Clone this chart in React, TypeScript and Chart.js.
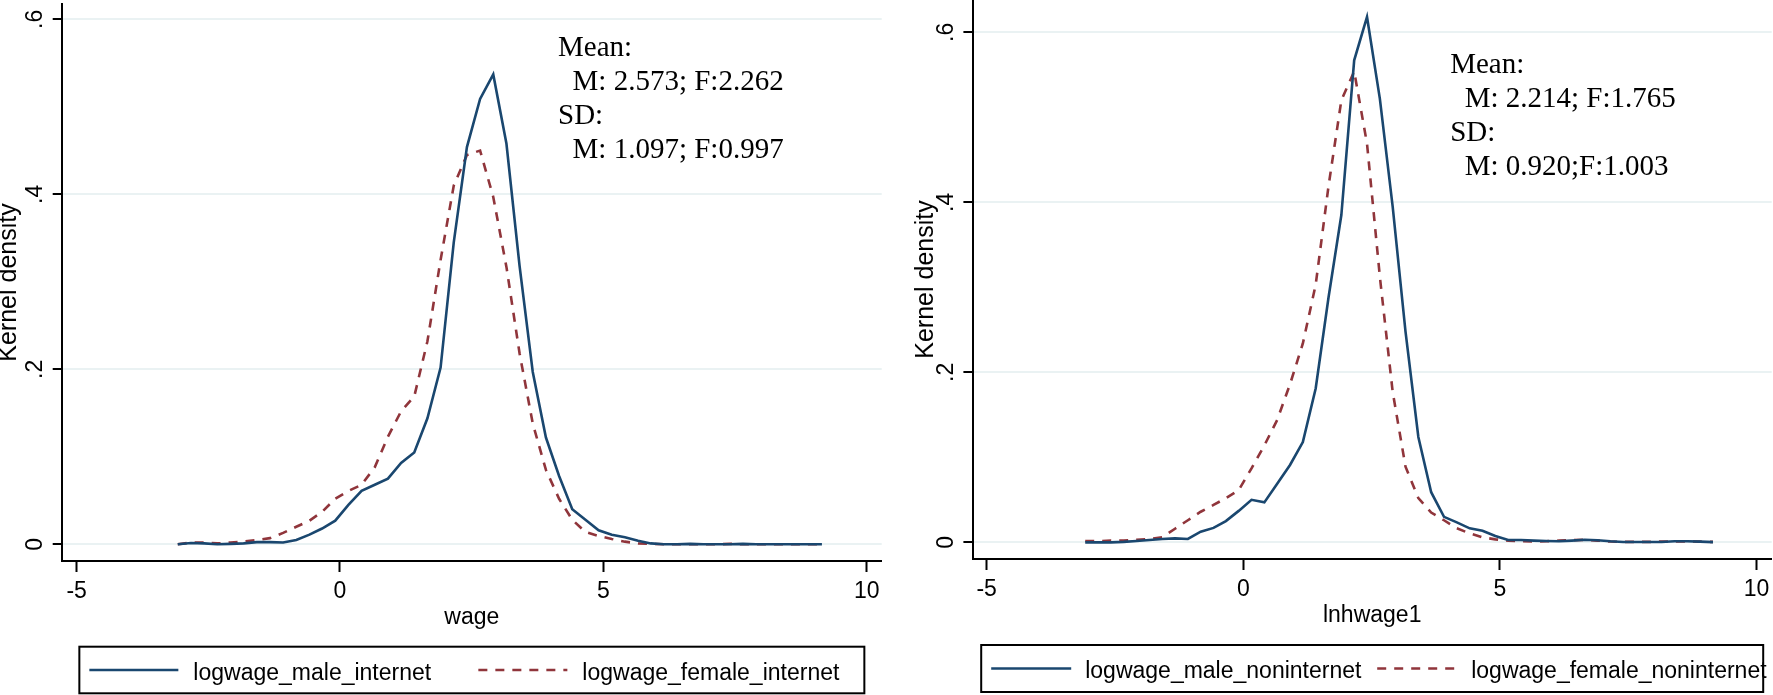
import React, { useEffect, useRef } from "react";
import { Chart, registerables } from "chart.js";

Chart.register(...registerables);

// ---------- data ----------
const gridX = [-3.08, -2.83, -2.58, -2.33, -2.08, -1.83, -1.58, -1.33, -1.08, -0.83,
  -0.58, -0.34, -0.09, 0.16, 0.41, 0.66, 0.91, 1.16, 1.41, 1.66,
  1.91, 2.16, 2.41, 2.66, 2.91, 3.16, 3.41, 3.66, 3.91, 4.16,
  4.41, 4.66, 4.91, 5.16, 5.41, 5.66, 5.90, 6.15, 6.40, 6.65,
  6.90, 7.15, 7.40, 7.65, 7.90, 8.15, 8.40, 8.65, 8.90, 9.15];

const maleInternet = [0.000, 0.0015, 0.001, 0.000, 0.0005, 0.001, 0.0025, 0.0025, 0.002, 0.005,
  0.011, 0.018, 0.027, 0.045, 0.061, 0.068, 0.075, 0.093, 0.105, 0.144,
  0.202, 0.345, 0.454, 0.509, 0.537, 0.458, 0.318, 0.197, 0.122, 0.078,
  0.040, 0.028, 0.016, 0.011, 0.008, 0.004, 0.001, 0.000, 0.000, 0.0005,
  0.000, 0.000, 0.000, 0.0005, 0.000, 0.000, 0.000, 0.000, 0.000, 0.000];

const femaleInternet = [0.000, 0.002, 0.002, 0.001, 0.002, 0.003, 0.005, 0.007, 0.013, 0.020,
  0.027, 0.037, 0.052, 0.061, 0.068, 0.088, 0.123, 0.152, 0.169, 0.232,
  0.325, 0.410, 0.445, 0.450, 0.397, 0.317, 0.218, 0.138, 0.085, 0.052,
  0.028, 0.014, 0.0095, 0.006, 0.003, 0.001, 0.0005, 0.000, 0.000, 0.000,
  0.000, 0.000, 0.0005, 0.000, 0.000, 0.000, 0.000, 0.000, 0.000, 0.000];

const maleNonInternet = [0.000, 0.000, 0.000, 0.0005, 0.0015, 0.0027, 0.004, 0.0047, 0.004, 0.0125,
  0.017, 0.025, 0.037, 0.050, 0.047, 0.069, 0.091, 0.118, 0.181, 0.288,
  0.385, 0.567, 0.618, 0.522, 0.395, 0.248, 0.124, 0.059, 0.030, 0.0235,
  0.0165, 0.0137, 0.0074, 0.0027, 0.0027, 0.002, 0.0016, 0.0012, 0.002, 0.0031,
  0.0024, 0.0012, 0.0004, 0.0004, 0.0004, 0.0004, 0.0012, 0.0012, 0.0008, 0.0002];

const femaleNonInternet = [0.0015, 0.0015, 0.002, 0.002, 0.003, 0.004, 0.006, 0.016, 0.026, 0.036,
  0.044, 0.052, 0.0615, 0.087, 0.114, 0.144, 0.186, 0.234, 0.303, 0.419,
  0.520, 0.554, 0.469, 0.3125, 0.177, 0.089, 0.052, 0.035, 0.026, 0.0165,
  0.0106, 0.0059, 0.0035, 0.002, 0.0015, 0.001, 0.0012, 0.002, 0.0025, 0.003,
  0.002, 0.001, 0.0005, 0.0005, 0.0005, 0.001, 0.001, 0.001, 0.0008, 0.0005];

const xTicks = [-5, 0, 5, 10];
const xTickLabels = ["-5", "0", "5", "10"];
const yTicks = [0, 0.2, 0.4, 0.6];
const yTickLabels = ["0", ".2", ".4", ".6"];

const leftSeriesNames = ["logwage_male_internet", "logwage_female_internet"];
const rightSeriesNames = ["logwage_male_noninternet", "logwage_female_noninternet"];
const leftNotes = ["Mean:", "  M: 2.573; F:2.262", "SD:", "  M: 1.097; F:0.997"];
const rightNotes = ["Mean:", "  M: 2.214; F:1.765", "SD:", "  M: 0.920;F:1.003"];

// ---------- style ----------
const NAVY = "#1A476F";
const MAROON = "#90353B";
const GRID = "#EAF2F3";
const SANS = '"Liberation Sans", Arial, Helvetica, sans-serif';
const SERIF = '"Liberation Serif", "Times New Roman", Times, serif';

function makeNotesPlugin(lines: string[], xv: number, yv: number, gap: number) {
  return {
    id: "notes",
    afterDatasetsDraw(chart: any) {
      const { ctx, scales } = chart;
      const px = scales.x.getPixelForValue(xv);
      const py = scales.y.getPixelForValue(yv);
      ctx.save();
      ctx.font = `29px ${SERIF}`;
      ctx.fillStyle = "#000";
      ctx.textAlign = "left";
      ctx.textBaseline = "alphabetic";
      lines.forEach((t, i) => ctx.fillText(t, px, py + i * gap));
      ctx.restore();
    },
  };
}

function makeLegendPlugin(cfg: any) {
  return {
    id: "stataLegend",
    afterDraw(chart: any) {
      const { ctx, chartArea } = chart;
      const cx = (chartArea.left + chartArea.right) / 2;
      const left = cx - cfg.width / 2;
      ctx.save();
      ctx.strokeStyle = "#000";
      ctx.lineWidth = 2;
      ctx.strokeRect(left, cfg.top, cfg.width, cfg.height);
      const midY = cfg.top + cfg.height / 2;
      chart.data.datasets.forEach((ds: any, i: number) => {
        const x0 = left + cfg.keyX[i];
        ctx.beginPath();
        ctx.setLineDash(ds.borderDash || []);
        ctx.strokeStyle = ds.borderColor;
        ctx.lineWidth = ds.borderWidth;
        ctx.moveTo(x0, midY);
        ctx.lineTo(x0 + cfg.keyLen, midY);
        ctx.stroke();
        ctx.setLineDash([]);
        ctx.fillStyle = "#000";
        ctx.font = `23px ${SANS}`;
        ctx.textAlign = "left";
        ctx.textBaseline = "alphabetic";
        ctx.fillText(ds.label, x0 + cfg.keyLen + cfg.gap, cfg.baseline);
      });
      ctx.restore();
    },
  };
}

function buildChart(canvas: HTMLCanvasElement, p: any) {
  const toPts = (arr: number[]) => gridX.map((x, i) => ({ x, y: arr[i] }));
  return new Chart(canvas, {
    type: "line",
    data: {
      datasets: [
        {
          label: p.names[0],
          data: toPts(p.male),
          borderColor: NAVY,
          borderWidth: 2.6,
          pointRadius: 0,
          tension: 0,
          fill: false,
        },
        {
          label: p.names[1],
          data: toPts(p.female),
          borderColor: MAROON,
          borderWidth: 2.6,
          borderDash: [9, 8],
          pointRadius: 0,
          tension: 0,
          fill: false,
        },
      ],
    },
    options: {
      responsive: false,
      animation: false,
      devicePixelRatio: 1,
      layout: {
        autoPadding: false,
        padding: { left: 0, top: p.padTop, right: p.padRight, bottom: p.padBottom },
      },
      plugins: {
        legend: { display: false },
        tooltip: { enabled: false },
      },
      scales: {
        x: {
          type: "linear",
          min: p.xMin,
          max: p.xMax,
          afterBuildTicks: (s: any) => {
            s.ticks = xTicks.map((v) => ({ value: v }));
          },
          afterFit: (s: any) => {
            s.height = 70;
            s.paddingLeft = 0;
            s.paddingRight = 0;
          },
          ticks: {
            autoSkip: false,
            maxRotation: 0,
            minRotation: 0,
            padding: 6.3,
            color: "#000",
            font: { family: SANS, size: 23 },
            callback: (v: any) => xTickLabels[xTicks.indexOf(v)],
          },
          grid: {
            drawOnChartArea: false,
            drawTicks: true,
            tickLength: 11,
            tickColor: "#000",
            tickWidth: 2,
          },
          border: { display: true, color: "#000", width: 2 },
          title: {
            display: true,
            text: p.xTitle,
            color: "#000",
            font: { family: SANS, size: 23 },
            padding: { top: 0, bottom: 0 },
          },
        },
        y: {
          type: "linear",
          min: p.yMin,
          max: p.yMax,
          afterBuildTicks: (s: any) => {
            s.ticks = yTicks.map((v) => ({ value: v }));
          },
          afterFit: (s: any) => {
            s.width = p.yWidth;
            s.paddingTop = 0;
            s.paddingBottom = 0;
          },
          ticks: {
            autoSkip: false,
            minRotation: 90,
            maxRotation: 90,
            crossAlign: "center",
            padding: p.yTickPad,
            color: "#000",
            font: { family: SANS, size: 23 },
            callback: (v: any) => yTickLabels[yTicks.indexOf(v)],
          },
          grid: {
            drawOnChartArea: true,
            color: GRID,
            lineWidth: 2,
            drawTicks: true,
            tickLength: 9.3,
            tickColor: "#000",
            tickWidth: 2,
          },
          border: { display: true, color: "#000", width: 2 },
          title: {
            display: true,
            text: "Kernel density",
            color: "#000",
            font: { family: SANS, size: 25, lineHeight: 0.75 },
            padding: { top: p.yTitlePad, bottom: 0 },
          },
        },
      },
    } as any,
    plugins: [
      makeNotesPlugin(p.notes, p.noteX, p.noteY, 34),
      makeLegendPlugin(p.legend),
    ],
  });
}

export default function App() {
  const leftRef = useRef<HTMLCanvasElement>(null);
  const rightRef = useRef<HTMLCanvasElement>(null);

  useEffect(() => {
    const left = buildChart(leftRef.current!, {
      names: leftSeriesNames,
      male: maleInternet,
      female: femaleInternet,
      xTitle: "wage",
      xMin: -5.278,
      xMax: 10.285,
      yMin: -0.0191,
      yMax: 0.6175,
      yWidth: 62,
      padTop: 4,
      padRight: 4.3,
      padBottom: 64,
      yTickPad: 7.8,
      yTitlePad: 0.2,
      notes: leftNotes,
      noteX: 4.14,
      noteY: 0.558,
      legend: { width: 785, top: 646.7, height: 46.6, keyX: [10, 399], keyLen: 89, gap: 15, baseline: 680 },
    });
    const right = buildChart(rightRef.current!, {
      names: rightSeriesNames,
      male: maleNonInternet,
      female: femaleNonInternet,
      xTitle: "lnhwage1",
      xMin: -5.272,
      xMax: 10.294,
      yMin: -0.0196,
      yMax: 0.638,
      yWidth: 86.7,
      padTop: 0,
      padRight: 1.3,
      padBottom: 66,
      yTickPad: 6.8,
      yTitlePad: 31,
      notes: rightNotes,
      noteX: 4.03,
      noteY: 0.5525,
      legend: { width: 782, top: 645, height: 47, keyX: [10, 396], keyLen: 80, gap: 14, baseline: 678.3 },
    });
    return () => {
      left.destroy();
      right.destroy();
    };
  }, []);

  return (
    <div style={{ position: "absolute", left: 0, top: 0, width: 1773, height: 695, background: "#fff", overflow: "hidden" }}>
      <canvas ref={leftRef} width={886} height={695} style={{ position: "absolute", left: 0, top: 0 }} />
      <canvas ref={rightRef} width={887} height={695} style={{ position: "absolute", left: 886, top: 0 }} />
    </div>
  );
}
